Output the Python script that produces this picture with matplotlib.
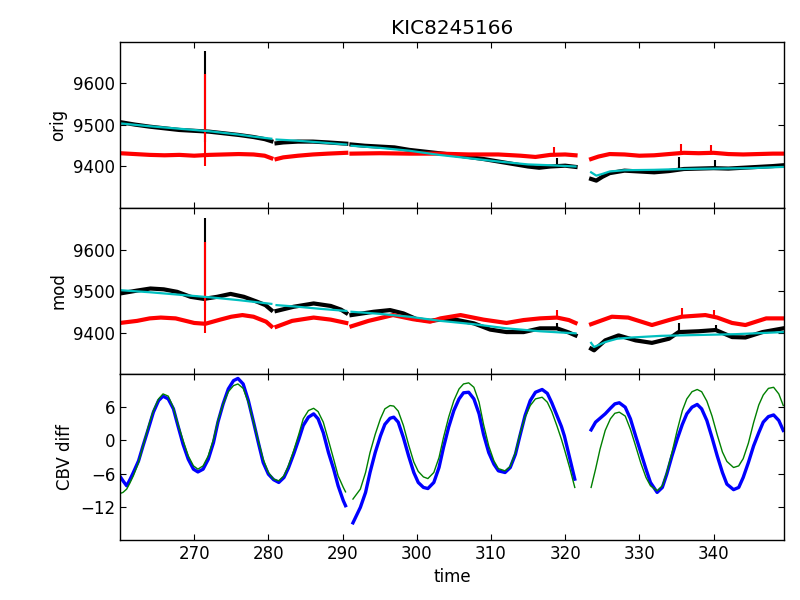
import numpy as np
import matplotlib
matplotlib.use('Agg')
import matplotlib.pyplot as plt

nan = np.nan

# ---- orig panel (nan marks data gaps) ----
orig_black_t = [260.0, 262, 264, 266, 268, 270, 272, 274, 276, 278, 279.5, 280.4, nan,
                281.1, 282, 284, 286, 288, 290.5, nan,
                291.2, 293, 295, 297, 299, 301, 303, 305, 307, 309, 311, 313, 315, 316.5, 318, 320, 321.4, nan,
                323.5, 324.2, 325, 326, 328, 330, 332, 334, 336, 338, 340, 342, 344, 346, 348, 349.4]
orig_black = [9507, 9501, 9496, 9492, 9488, 9486, 9484, 9480, 9476, 9471, 9466, 9461, nan,
              9456, 9458, 9460, 9460, 9458, 9455, nan,
              9453, 9450, 9448, 9446, 9440, 9436, 9432, 9428, 9423, 9418, 9412, 9406, 9400, 9397, 9400, 9402, 9399, nan,
              9370, 9366, 9375, 9384, 9390, 9388, 9386, 9389, 9394, 9395, 9396, 9395, 9397, 9399, 9401, 9403]

orig_red_t = [260.0, 262, 264, 266, 268, 270, 272, 274, 276, 278, 279.5, 280.4, nan,
              281.1, 282, 284, 286, 288, 290.5, nan,
              291.2, 295, 299, 303, 307, 311, 314, 316, 318, 320, 321.4, nan,
              323.5, 324.5, 326, 328, 330, 332, 334, 336, 338, 340, 342, 344, 346, 348, 349.4]
orig_red = [9432, 9430, 9428, 9427, 9428, 9426, 9428, 9429, 9430, 9429, 9426, 9420, nan,
            9418, 9422, 9426, 9429, 9431, 9433, nan,
            9431, 9432, 9431, 9431, 9429, 9429, 9426, 9423, 9428, 9429, 9427, nan,
            9418, 9424, 9430, 9429, 9426, 9427, 9430, 9433, 9432, 9433, 9430, 9429, 9430, 9431, 9431]

orig_cyan_t = [260.0, 264, 268, 272, 276, 278, 280.4, nan,
               281.1, 284, 287, 290.5, nan,
               291.2, 295, 299, 303, 307, 311, 315, 318, 321.4, nan,
               323.5, 324.2, 325, 326, 328, 332, 336, 340, 345, 349.4]
orig_cyan = [9504, 9497, 9491, 9485, 9477, 9472, 9467, nan,
             9465, 9462, 9458, 9453, nan,
             9450, 9445, 9438, 9428, 9420, 9412, 9405, 9403, 9400, nan,
             9386, 9378, 9382, 9388, 9391, 9392, 9394, 9395, 9396, 9399]

# ---- mod panel ----
mod_black_t = [260.0, 262.3, 264.1, 265.9, 267.7, 269.5, 271.3, 273.1, 274.9, 276.7, 278.5, 279.6, 280.4, nan,
               281.1, 283.4, 286.1, 288.4, 289.8, 290.5, nan,
               291.2, 294.2, 296.4, 298.2, 300.0, 301.8, 303.2, 305.5, 307.7, 309.9, 312.1, 314.4, 316.6, 318.9, 320.5, 321.4, nan,
               323.5, 323.9, 325.4, 327.2, 329.5, 331.7, 334.0, 335.3, 338.0, 340.3, 342.5, 344.3, 346.6, 349.4]
mod_black = [9494, 9501, 9506, 9504, 9498, 9486, 9481, 9486, 9493, 9486, 9474, 9466, 9454, nan,
             9452, 9462, 9470, 9464, 9455, 9447, nan,
             9442, 9450, 9454, 9446, 9432, 9428, 9431, 9430, 9422, 9407, 9401, 9401, 9410, 9410, 9400, 9393, nan,
             9361, 9357, 9381, 9393, 9381, 9375, 9385, 9401, 9403, 9406, 9389, 9388, 9401, 9410]

mod_red_t = [260.0, 262.3, 264.0, 265.5, 267.5, 270.0, 271.5, 273.5, 275.0, 276.5, 278.0, 279.7, 280.4, nan,
             281.1, 283.2, 286.1, 288.4, 290.5, nan,
             291.2, 293.5, 296.8, 299.5, 301.8, 303.2, 305.9, 309.0, 312.1, 314.4, 316.6, 318.9, 320.5, 321.4, nan,
             323.5, 326.3, 328.5, 331.7, 334.0, 335.7, 338.9, 340.5, 342.5, 344.3, 347.1, 349.4]
mod_red = [9423, 9428, 9434, 9436, 9434, 9423, 9421, 9431, 9438, 9442, 9438, 9426, 9415, nan,
           9414, 9428, 9436, 9431, 9423, nan,
           9415, 9428, 9442, 9432, 9426, 9434, 9442, 9431, 9423, 9430, 9434, 9436, 9430, 9423, nan,
           9420, 9438, 9436, 9418, 9430, 9438, 9442, 9436, 9423, 9418, 9434, 9434]

mod_cyan_t = [260.0, 264, 268, 272, 276, 280.4, nan,
              281.1, 284, 287, 290.5, nan,
              291.2, 295, 299, 303.2, 307.7, 312.1, 316.6, 321.4, nan,
              323.5, 323.9, 325.4, 327, 329, 333, 338, 343, 349.4]
mod_cyan = [9502, 9497, 9491, 9485, 9478, 9469, nan,
            9466, 9462, 9457, 9452, nan,
            9450, 9445, 9438, 9428, 9420, 9410, 9403, 9398, nan,
            9375, 9365, 9377, 9385, 9388, 9392, 9394, 9396, 9401]

# spikes: time, low, high
orig_black_spk = [(271.5, 9458, 9679), (318.9, 9404, 9420), (335.3, 9395, 9422), (340.2, 9396, 9416)]
orig_red_spk = [(271.5, 9400, 9623), (318.5, 9430, 9446), (335.6, 9432, 9455), (339.6, 9432, 9451)]
mod_black_spk = [(271.5, 9454, 9676), (318.9, 9410, 9424), (335.3, 9400, 9422), (340.3, 9405, 9418)]
mod_red_spk = [(271.5, 9398, 9619), (318.9, 9436, 9454), (335.7, 9438, 9458), (340.0, 9440, 9454)]

# ---- CBV diff panel ----
cbv_t = [260.0, 260.4, 260.9, 261.3, 261.8, 262.5, 263.1, 263.8, 264.5, 265.2, 265.8, 266.5, 267.2, 267.8,
         268.5, 269.2, 269.9, 270.5, 271.2, 271.9, 272.6, 273.2, 273.9, 274.6, 275.3, 275.9, 276.6, 277.3,
         278.0, 278.7, 279.3, 280.0, 280.7, 281.4, 282.1, 282.7, 283.4, 284.1, 284.7, 285.4, 286.1, 286.7,
         287.4, 288.1, 288.8, 289.4, 290.1, 290.4, nan,
         291.4, 292.4, 293.1, 293.7, 294.4, 295.1, 295.7, 296.4, 296.9, 297.5, 298.2, 298.9, 299.6, 300.2,
         300.9, 301.5, 302.3, 303.0, 303.6, 304.3, 305.0, 305.7, 306.3, 307.0, 307.7, 308.4, 309.0, 309.7,
         310.4, 311.0, 311.9, 312.6, 313.3, 313.9, 314.6, 315.3, 316.0, 316.9, 317.6, 318.2, 318.9, 319.5,
         319.9, 320.6, 321.3, nan,
         323.5, 324.1, 324.7, 325.4, 326.1, 326.7, 327.3, 328.1, 328.8, 329.5, 330.2, 330.9, 331.5, 332.4,
         333.1, 333.7, 334.4, 335.1, 335.8, 336.4, 337.1, 337.8, 338.4, 339.1, 339.8, 340.5, 341.2, 341.8,
         342.7, 343.4, 344.0, 344.7, 345.4, 346.1, 346.7, 347.4, 348.1, 348.8, 349.4]
cbv_blue = [-6.5, -7.3, -8.2, -7.2, -5.8, -3.7, -1.0, 2.0, 5.1, 7.2, 8.0, 7.5, 5.7, 2.7,
            -0.7, -3.4, -5.2, -5.7, -5.2, -3.4, -0.4, 3.3, 6.6, 9.3, 10.8, 11.2, 10.2, 7.2,
            3.3, -0.7, -4.0, -6.1, -7.1, -7.6, -6.7, -5.0, -2.5, 0.2, 2.7, 4.2, 4.8, 3.9,
            1.4, -2.2, -5.2, -8.2, -10.9, -11.8, nan,
            -14.9, -12.1, -9.4, -5.8, -2.2, 0.8, 2.9, 4.0, 4.2, 3.3, 0.5, -2.8, -5.8, -7.6,
            -8.5, -8.7, -7.6, -4.9, -1.3, 2.4, 5.4, 7.5, 8.6, 8.7, 7.5, 4.8, 1.1, -2.2,
            -4.3, -5.5, -5.8, -4.9, -2.5, 0.8, 4.5, 7.2, 8.7, 9.2, 8.5, 6.8, 4.5, 2.5,
            0.8, -3.1, -7.0, nan,
            1.9, 3.3, 4.0, 4.8, 5.8, 6.6, 6.8, 6.0, 3.9, 0.8, -2.2, -5.2, -7.6, -9.4,
            -8.5, -6.1, -2.8, 0.2, 2.9, 4.8, 6.0, 6.5, 5.7, 3.6, 0.5, -2.8, -5.8, -7.9,
            -8.9, -8.5, -6.7, -4.0, -1.0, 1.4, 3.3, 4.3, 4.6, 3.6, 1.8]
cbv_green = [-9.6, -9.4, -8.8, -7.8, -6.4, -4.0, -1.0, 2.4, 5.4, 7.5, 8.4, 8.0, 5.9, 3.0,
             0.0, -2.8, -4.6, -5.2, -4.6, -2.8, 0.2, 3.6, 6.6, 8.8, 9.9, 10.2, 9.4, 6.9,
             3.3, -0.4, -3.4, -5.8, -7.0, -7.3, -6.4, -4.6, -1.9, 1.1, 3.9, 5.4, 5.8, 5.2,
             3.3, 0.0, -3.4, -6.4, -8.5, -9.3, nan,
             -10.6, -8.8, -5.8, -2.2, 1.1, 3.9, 5.7, 6.3, 6.2, 5.3, 2.7, -0.8, -3.9, -5.6,
             -6.6, -6.9, -5.8, -3.1, 0.5, 4.2, 7.2, 9.3, 10.2, 10.4, 9.6, 6.9, 2.9, -1.0,
             -3.7, -5.1, -5.5, -4.7, -2.2, 1.1, 4.2, 6.3, 7.5, 7.8, 6.9, 5.2, 2.6, 0.2,
             -1.6, -4.9, -8.5, nan,
             -8.5, -5.2, -1.6, 1.8, 3.9, 4.9, 5.1, 4.4, 2.0, -1.0, -4.1, -6.7, -8.2, -9.1,
             -8.2, -5.8, -2.2, 1.8, 5.4, 7.5, 8.8, 9.2, 8.8, 7.1, 4.4, 1.0, -2.1, -3.8,
             -4.9, -4.6, -3.3, -0.5, 3.2, 6.4, 8.2, 9.4, 9.6, 8.4, 6.3]

plt.rcParams.update({
    'font.family': 'DejaVu Sans',
    'font.size': 12,
    'xtick.direction': 'in',
    'ytick.direction': 'in',
    'xtick.top': True,
    'ytick.right': True,
    'xtick.major.size': 4,
    'ytick.major.size': 4,
    'axes.linewidth': 1.0,
    'lines.solid_joinstyle': 'round',
})

fig, (ax1, ax2, ax3) = plt.subplots(3, 1, sharex=True, figsize=(8, 6), dpi=100)
fig.subplots_adjust(left=0.15, right=0.98, top=0.93, bottom=0.1, hspace=0)


def draw_flux(ax, bt, bv, rt, rv, ct, cv, bspk, rspk):
    ax.plot(bt, bv, color='k', lw=3)
    for t, lo, hi in bspk:
        ax.vlines(t, lo, hi, color='k', lw=1.5)
    ax.plot(rt, rv, color='r', lw=3)
    for t, lo, hi in rspk:
        ax.vlines(t, lo, hi, color='r', lw=1.5)
    ax.plot(ct, cv, color='c', lw=1.6)
    ax.set_ylim(9300, 9700)
    ax.set_yticks([9400, 9500, 9600])
    ax.ticklabel_format(axis='y', useOffset=False)


draw_flux(ax1, orig_black_t, orig_black, orig_red_t, orig_red, orig_cyan_t, orig_cyan,
          orig_black_spk, orig_red_spk)
ax1.set_ylabel('orig')
ax1.set_title('KIC8245166', fontsize=14.4)

draw_flux(ax2, mod_black_t, mod_black, mod_red_t, mod_red, mod_cyan_t, mod_cyan,
          mod_black_spk, mod_red_spk)
ax2.set_ylabel('mod')

ax3.plot(cbv_t, cbv_blue, color='b', lw=2.4)
ax3.plot(cbv_t, cbv_green, color='g', lw=1)
ax3.set_ylim(-18, 12)
ax3.set_yticks([-12, -6, 0, 6])
ax3.set_ylabel('CBV diff')
ax3.set_xlabel('time')
ax3.set_xlim(260.0, 349.5)
ax3.set_xticks([270, 280, 290, 300, 310, 320, 330, 340])

plt.savefig('out.png', dpi=100, facecolor='white')
plt.close()
